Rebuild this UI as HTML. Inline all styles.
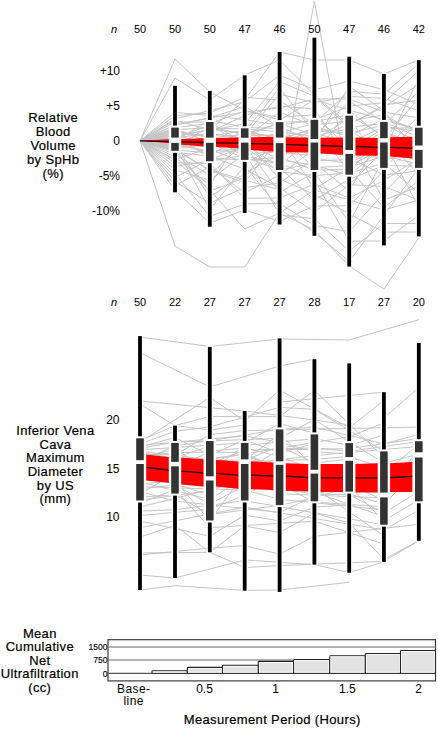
<!DOCTYPE html>
<html><head><meta charset="utf-8"><style>
html,body{margin:0;padding:0;background:#fff;width:438px;height:729px;overflow:hidden}
svg{display:block}
text{font-family:"Liberation Sans",sans-serif}
text[font-size="13"]{stroke:#000;stroke-width:0.2px}
text[font-size="9.3"]{stroke:#000;stroke-width:0.15px}
</style></head><body>
<svg width="438" height="729" viewBox="0 0 438 729" font-family="Liberation Sans, sans-serif" fill="#000"><rect width="438" height="729" fill="#fff"/><g fill="none" stroke="#c4c4c4" stroke-width="1"><polyline points="140.0,141.0 175.0,246.0 209.8,267.0 244.7,267.0 279.6,213.0 314.4,190.0 349.2,200.0 383.9,210.0 418.8,200.0"/><polyline points="140.0,141.0 175.0,59.0 209.8,92.0 244.7,110.0 279.6,120.0 314.4,100.0 349.2,110.0 383.9,120.0 418.8,130.0"/><polyline points="140.0,141.0 175.0,78.0 209.8,100.0 244.7,75.0 279.6,60.0 314.4,95.0 349.2,125.0 383.9,105.0 418.8,100.0"/><polyline points="140.0,141.0 175.0,150.0 209.8,170.0 244.7,180.0 279.6,190.0 314.4,1.4 349.2,185.0 383.9,150.0 418.8,140.0"/><polyline points="140.0,141.0 175.0,160.0 209.8,190.0 244.7,229.0 279.6,213.0 314.4,230.0 349.2,266.0 383.9,289.0 418.8,238.0"/><polyline points="140.0,141.0 175.0,120.0 209.8,130.0 244.7,100.0 279.6,52.0 314.4,60.0 349.2,60.0 383.9,74.0 418.8,60.0"/><polyline points="140.0,141.0 175.0,125.0 209.8,118.0 244.7,112.0 279.6,108.0 314.4,99.0 349.2,99.0 383.9,112.0 418.8,118.0"/><polyline points="140.0,140.8 175.0,132.7 209.8,149.4 244.7,162.5 279.6,146.8 314.4,144.3 349.2,151.9 383.9,139.5 418.8,97.9"/><polyline points="140.0,140.8 175.0,150.8 209.8,191.1 244.7,177.8 279.6,133.2 314.4,123.2 349.2,91.4 383.9,94.1 418.8,63.7"/><polyline points="140.0,140.8 175.0,140.7 209.8,120.1 244.7,127.5 279.6,128.4 314.4,153.6 349.2,110.7 383.9,137.9 418.8,150.6"/><polyline points="140.0,140.8 175.0,139.7 209.8,139.5 244.7,139.2 279.6,149.4 314.4,151.3 349.2,155.8 383.9,129.9 418.8,152.5"/><polyline points="140.0,140.8 175.0,129.6 209.8,127.8 244.7,129.1 279.6,131.6 314.4,136.6 349.2,101.3 383.9,121.9 418.8,137.2"/><polyline points="140.0,140.8 175.0,166.2 209.8,161.2 244.7,155.3 279.6,164.8 314.4,138.2 349.2,124.2 383.9,106.9 418.8,84.5"/><polyline points="140.0,140.8 175.0,154.3 209.8,175.3 244.7,141.9 279.6,159.7 314.4,165.3 349.2,175.2 383.9,146.3 418.8,162.1"/><polyline points="140.0,140.8 175.0,144.9 209.8,151.1 244.7,148.6 279.6,141.6 314.4,131.5 349.2,130.4 383.9,151.1 418.8,77.7"/><polyline points="140.0,140.8 175.0,136.7 209.8,129.3 244.7,133.1 279.6,136.4 314.4,167.7 349.2,165.5 383.9,148.7 418.8,116.8"/><polyline points="140.0,140.8 175.0,137.7 209.8,133.6 244.7,138.2 279.6,111.9 314.4,126.5 349.2,136.5 383.9,118.6 418.8,129.6"/><polyline points="140.0,140.8 175.0,135.7 209.8,157.8 244.7,160.2 279.6,157.1 314.4,170.0 349.2,169.4 383.9,207.5 418.8,180.5"/><polyline points="140.0,140.8 175.0,185.7 209.8,166.7 244.7,192.8 279.6,175.1 314.4,148.9 349.2,153.9 383.9,153.5 418.8,122.6"/><polyline points="140.0,140.8 175.0,141.5 209.8,154.5 244.7,137.2 279.6,122.1 314.4,121.5 349.2,114.8 383.9,136.3 418.8,175.2"/><polyline points="140.0,140.8 175.0,128.6 209.8,142.7 244.7,158.6 279.6,162.3 314.4,179.6 349.2,241.2 383.9,240.9 418.8,215.4"/><polyline points="140.0,140.8 175.0,149.1 209.8,170.7 244.7,182.5 279.6,138.0 314.4,129.9 349.2,133.4 383.9,125.1 418.8,91.2"/><polyline points="140.0,140.8 175.0,131.6 209.8,136.6 244.7,130.1 279.6,139.6 314.4,128.2 349.2,171.3 383.9,134.7 418.8,160.2"/><polyline points="140.0,140.8 175.0,115.7 209.8,113.1 244.7,97.1 279.6,100.2 314.4,124.8 349.2,121.1 383.9,114.9 418.8,133.4"/><polyline points="140.0,140.8 175.0,190.1 209.8,223.2 244.7,209.9 279.6,221.3 314.4,206.0 349.2,205.7 383.9,170.8"/><polyline points="140.0,140.8 175.0,162.8 209.8,163.4 244.7,198.3 279.6,197.9 314.4,184.1 349.2,198.0 383.9,180.5 418.8,158.3"/><polyline points="140.0,140.8 175.0,145.7 209.8,209.7 244.7,165.6 279.6,209.1 314.4,232.3 349.2,261.4 383.9,215.4 418.8,167.9"/><polyline points="140.0,140.8 175.0,169.8 209.8,180.2 244.7,153.6 279.6,152.0 314.4,156.0 349.2,145.8 383.9,160.7 418.8,148.7"/><polyline points="140.0,140.8 175.0,138.7 209.8,124.9 244.7,145.2 279.6,192.6 314.4,172.2 349.2,222.6 383.9,158.3 418.8,139.1"/><polyline points="140.0,140.8 175.0,143.2 209.8,146.1 244.7,132.1 279.6,87.8 314.4,133.2 349.2,142.7 383.9,126.7 418.8,131.5"/><polyline points="140.0,140.8 175.0,112.3 209.8,115.5 244.7,119.7 279.6,125.3 314.4,119.8 349.2,106.1 383.9,102.7 418.8,70.7"/><polyline points="140.0,140.8 175.0,152.2 209.8,156.2 244.7,169.2 279.6,187.7 314.4,212.2 349.2,184.6 383.9,186.5 418.8,200.1"/><polyline points="140.0,140.8 175.0,177.4 209.8,159.5 244.7,146.9 279.6,172.0 314.4,175.5 349.2,173.2 383.9,163.1 418.8,193.1"/><polyline points="140.0,140.8 175.0,125.0 209.8,117.9 244.7,106.5 279.6,126.9 314.4,141.9 349.2,86.2 383.9,111.0 418.8,154.4"/><polyline points="140.0,140.8 175.0,118.9 209.8,110.6 244.7,101.8 279.6,75.1 314.4,89.8 349.2,81.0 383.9,89.7 418.8,104.4"/><polyline points="140.0,140.8 175.0,122.0 209.8,122.0 244.7,143.6 279.6,167.4 314.4,200.1 349.2,179.2 383.9,165.5 418.8,166.0"/><polyline points="140.0,140.8 175.0,156.8 209.8,185.5 244.7,131.1 279.6,144.2 314.4,139.9 349.2,118.0 383.9,167.9 418.8,135.3"/><polyline points="140.0,140.8 175.0,181.5 209.8,203.2 244.7,187.5 279.6,183.1 314.4,158.3 349.2,163.6 383.9,143.9 418.8,141.0"/><polyline points="140.0,140.8 175.0,133.7 209.8,135.1 244.7,157.0 279.6,170.0 314.4,163.0 349.2,190.9 383.9,131.5 418.8,144.8"/><polyline points="140.0,140.8 175.0,134.7 209.8,130.7 244.7,123.8 279.6,81.5 314.4,96.4 349.2,127.3 383.9,123.5 418.8,142.9"/><polyline points="140.0,140.8 175.0,150.0 209.8,152.8 244.7,150.3 279.6,130.0 314.4,160.6 349.2,159.7 383.9,133.1 418.8,146.7"/><polyline points="140.0,140.8 175.0,148.3 209.8,144.4 244.7,136.1 279.6,134.8 314.4,189.1 349.2,167.4 383.9,155.9 418.8,164.1"/><polyline points="140.0,140.8 175.0,144.0 209.8,197.1 244.7,173.3 279.6,154.5 314.4,146.6 349.2,139.6 383.9,200.1 418.8,186.5"/><polyline points="140.0,140.8 175.0,159.7 209.8,147.8 244.7,140.2 279.6,178.9 314.4,194.4 349.2,213.9 383.9,232.1 418.8,232.0"/><polyline points="140.0,140.8 175.0,130.6 209.8,138.0 244.7,134.1 279.6,123.7 314.4,134.9 349.2,157.8 383.9,175.2 418.8,170.8"/><polyline points="140.0,140.8 175.0,173.5 209.8,216.3 244.7,204.0 279.6,203.4 314.4,225.4 349.2,231.7 383.9,193.1 418.8,156.4"/><polyline points="140.0,140.8 175.0,142.4 209.8,132.2 244.7,115.4 279.6,106.1 314.4,108.9 349.2,161.6 383.9,141.5 418.8,207.5"/><polyline points="140.0,140.8 175.0,147.4 209.8,126.4 244.7,135.1 279.6,94.1 314.4,102.7 349.2,96.4 383.9,98.4 418.8,110.7"/><polyline points="140.0,140.8 175.0,146.6 209.8,141.0 244.7,151.9 279.6,215.1 314.4,218.7 349.2,251.1 383.9,223.6 418.8,223.5"/><polyline points="140.0,140.8 175.0,127.6 209.8,123.5 244.7,111.0 279.6,117.3 314.4,114.7 349.2,148.9 383.9,128.3 418.8,127.7"/></g><polygon points="140.0,140.8 168.0,139.3 182.0,139.0 203.0,138.2 217.0,137.9 238.0,137.4 251.0,137.3 274.0,136.8 286.0,137.3 308.0,137.5 321.0,137.8 342.0,137.5 356.0,137.6 378.0,137.9 390.0,137.3 412.6,136.8 412.6,158.6 390.0,156.6 378.0,155.8 356.0,155.5 342.0,154.8 321.0,153.6 308.0,152.6 286.0,152.3 274.0,151.8 251.0,150.0 238.0,148.3 217.0,146.9 203.0,146.6 182.0,144.8 168.0,143.0 140.0,140.8" fill="#ff0000"/><polyline points="140.0,140.8 168.0,141.6 182.0,141.8 203.0,142.5 217.0,142.8 238.0,143.2 251.0,143.6 274.0,144.2 286.0,144.6 308.0,145.1 321.0,145.5 342.0,146.3 356.0,146.5 378.0,147.3 390.0,147.3 412.6,148.2" fill="none" stroke="#200000" stroke-width="1.3"/><rect x="171.8" y="84.8" width="6.4" height="108.5" fill="#fff"/><rect x="173.1" y="85.8" width="3.8" height="106.5" fill="#000"/><rect x="168.8" y="125.6" width="12.4" height="27.2" fill="#fff"/><rect x="171.2" y="127.6" width="7.6" height="10.0" fill="#333"/><rect x="171.2" y="142.9" width="7.6" height="7.9" fill="#333"/><rect x="206.6" y="89.9" width="6.4" height="137.8" fill="#fff"/><rect x="207.9" y="90.9" width="3.8" height="135.8" fill="#000"/><rect x="203.6" y="120.0" width="12.4" height="43.2" fill="#fff"/><rect x="206.0" y="122.0" width="7.6" height="15.6" fill="#333"/><rect x="206.0" y="142.8" width="7.6" height="18.4" fill="#333"/><rect x="241.5" y="74.3" width="6.4" height="139.6" fill="#fff"/><rect x="242.8" y="75.3" width="3.8" height="137.6" fill="#000"/><rect x="238.5" y="126.3" width="12.4" height="35.6" fill="#fff"/><rect x="240.9" y="128.3" width="7.6" height="9.5" fill="#333"/><rect x="240.9" y="142.6" width="7.6" height="17.3" fill="#333"/><rect x="276.4" y="51.0" width="6.4" height="174.5" fill="#fff"/><rect x="277.7" y="52.0" width="3.8" height="172.5" fill="#000"/><rect x="273.4" y="120.1" width="12.4" height="51.9" fill="#fff"/><rect x="275.8" y="122.1" width="7.6" height="15.5" fill="#333"/><rect x="275.8" y="143.1" width="7.6" height="26.9" fill="#333"/><rect x="311.2" y="36.7" width="6.4" height="200.1" fill="#fff"/><rect x="312.5" y="37.7" width="3.8" height="198.1" fill="#000"/><rect x="308.2" y="117.8" width="12.4" height="54.2" fill="#fff"/><rect x="310.6" y="119.8" width="7.6" height="19.2" fill="#333"/><rect x="310.6" y="142.5" width="7.6" height="27.5" fill="#333"/><rect x="346.0" y="55.7" width="6.4" height="211.9" fill="#fff"/><rect x="347.3" y="56.7" width="3.8" height="209.9" fill="#000"/><rect x="343.0" y="113.7" width="12.4" height="63.0" fill="#fff"/><rect x="345.4" y="115.7" width="7.6" height="34.3" fill="#333"/><rect x="345.4" y="153.9" width="7.6" height="20.8" fill="#333"/><rect x="380.7" y="72.9" width="6.4" height="173.5" fill="#fff"/><rect x="382.0" y="73.9" width="3.8" height="171.5" fill="#000"/><rect x="377.7" y="119.9" width="12.4" height="50.0" fill="#fff"/><rect x="380.1" y="121.9" width="7.6" height="16.3" fill="#333"/><rect x="380.1" y="142.5" width="7.6" height="25.4" fill="#333"/><rect x="415.6" y="59.2" width="6.4" height="178.2" fill="#fff"/><rect x="416.9" y="60.2" width="3.8" height="176.2" fill="#000"/><rect x="412.6" y="125.7" width="12.4" height="44.2" fill="#fff"/><rect x="415.0" y="127.7" width="7.6" height="17.8" fill="#333"/><rect x="415.0" y="149.9" width="7.6" height="18.0" fill="#333"/><g fill="none" stroke="#c4c4c4" stroke-width="1"><polyline points="140.0,337.0 209.8,346.5 279.6,339.0 349.2,340.0 418.8,319.7"/><polyline points="140.0,352.7 209.8,387.0 279.6,366.0 314.4,359.2"/><polyline points="279.6,402.0 383.9,392.2"/><polyline points="383.9,418.0 418.8,387.6"/><polyline points="140.0,401.0 244.7,411.0 314.4,420.0 349.2,425.0"/><polyline points="140.0,404.0 175.0,425.6 209.8,430.0 244.7,425.0"/><polyline points="140.0,590.0 175.0,585.7 244.7,590.3 279.6,590.0 349.2,582.3"/><polyline points="140.0,553.0 209.8,552.3 244.7,567.5 279.6,565.6 383.9,561.3 418.8,540.8"/><polyline points="140.0,575.0 175.0,578.0 244.7,560.0 314.4,564.6 349.2,572.7 383.9,561.9"/><polyline points="140.0,484.2 175.0,480.6 209.8,520.7 244.7,473.1 279.6,479.7 383.9,516.7"/><polyline points="140.0,448.4 175.0,442.1 279.6,438.4 314.4,419.6 349.2,441.7 383.9,463.1 418.8,454.0"/><polyline points="140.0,456.5 175.0,452.3 244.7,452.3 279.6,471.2 349.2,474.5"/><polyline points="140.0,460.2 175.0,460.3 209.8,467.4 244.7,461.7 314.4,459.4 349.2,456.5 383.9,468.3"/><polyline points="140.0,500.2 209.8,490.7 279.6,449.8 349.2,448.6 418.8,438.5"/><polyline points="140.0,473.2 209.8,495.0 244.7,458.1 279.6,467.1 314.4,475.8 349.2,469.1 418.8,476.8"/><polyline points="140.0,447.0 175.0,437.5 209.8,455.5 244.7,439.7 279.6,453.2 314.4,443.4"/><polyline points="140.0,497.1 175.0,494.7 209.8,514.6 279.6,505.3 314.4,498.0 349.2,486.8 383.9,520.6 418.8,499.9"/><polyline points="140.0,471.2 209.8,482.5 244.7,456.2 383.9,490.8 418.8,450.4"/><polyline points="140.0,537.1 175.0,525.4 209.8,552.3 244.7,525.9 279.6,532.6 314.4,513.1 349.2,523.0 383.9,559.3 418.8,540.8"/><polyline points="140.0,515.6 209.8,509.2 244.7,495.1 279.6,475.4 314.4,484.4 383.9,503.7 418.8,470.3"/><polyline points="140.0,527.7 244.7,507.2 383.9,529.8 418.8,510.3"/><polyline points="140.0,481.9 209.8,499.5 244.7,477.0 279.6,493.8 383.9,497.9 418.8,448.4"/><polyline points="140.0,507.0 244.7,481.1 314.4,490.7"/><polyline points="140.0,455.2 209.8,474.8 279.6,446.2 314.4,463.0 349.2,459.0 383.9,477.8 418.8,464.0"/><polyline points="140.0,452.6 209.8,463.6 244.7,450.2 314.4,447.7 349.2,451.4 418.8,441.6"/><polyline points="140.0,465.1 175.0,462.8 244.7,454.3 314.4,487.5 383.9,535.9"/><polyline points="140.0,554.9 209.8,548.1 244.7,545.7 279.6,554.1 314.4,536.3 418.8,524.3"/><polyline points="140.0,479.6 175.0,476.7 279.6,463.1 314.4,481.5 383.9,482.2 418.8,483.7"/><polyline points="140.0,469.1 175.0,465.8 209.8,486.6 279.6,434.1 314.4,466.5 383.9,500.8"/><polyline points="140.0,451.2 209.8,459.7 349.2,436.7 383.9,422.9"/><polyline points="140.0,521.0 209.8,536.3 244.7,515.1 279.6,520.9 314.4,507.1 349.2,504.8"/><polyline points="140.0,477.5 279.6,484.1 314.4,502.2 383.9,506.7"/><polyline points="140.0,489.0 175.0,484.8 209.8,504.2 244.7,485.5 279.6,488.8 314.4,494.2 349.2,494.5 383.9,513.2 418.8,491.3"/><polyline points="140.0,486.5 244.7,490.1 279.6,499.2 383.9,509.9"/><polyline points="140.0,443.8 175.0,431.3 209.8,426.9 279.6,407.4 314.4,409.3 383.9,451.2"/><polyline points="140.0,494.3 175.0,472.9 244.7,469.2 314.4,473.1 349.2,464.0 383.9,486.5 418.8,457.9"/><polyline points="140.0,467.1 175.0,469.4 209.8,451.1 244.7,448.0 279.6,456.5 314.4,470.0"/><polyline points="140.0,445.4 244.7,435.8 279.6,442.4 314.4,451.8 349.2,454.0"/><polyline points="140.0,475.3 209.8,478.4 244.7,465.4 279.6,459.8 314.4,455.6 418.8,446.4"/><polyline points="140.0,463.1 244.7,459.9 314.4,478.6 383.9,473.2 418.8,444.2"/><polyline points="140.0,461.5 175.0,445.9 209.8,440.8 279.6,429.2 314.4,427.1 383.9,443.9 418.8,434.4"/><polyline points="140.0,457.7 175.0,449.2 209.8,471.1 244.7,445.5 314.4,438.6 349.2,445.4 383.9,435.0"/><polyline points="140.0,503.4 175.0,489.4 209.8,527.7 314.4,521.2 383.9,544.1"/><polyline points="140.0,453.9 175.0,455.1 209.8,434.6 244.7,430.6 418.8,427.0"/><polyline points="140.0,442.2 209.8,397.4 244.7,421.0 279.6,390.2 349.2,427.8 383.9,400.6"/><polyline points="140.0,511.0 175.0,509.7 244.7,500.7 383.9,524.8"/><polyline points="140.0,449.8 244.7,442.8 279.6,423.6 314.4,433.3"/><polyline points="140.0,459.0 175.0,457.7 209.8,446.2"/><polyline points="140.0,491.6 175.0,501.1 279.6,512.3 349.2,480.3 383.9,495.0 418.8,452.2"/><polyline points="140.0,440.4 175.0,425.6 209.8,416.5 279.6,416.7 314.4,390.3 383.9,457.5"/></g><polygon points="145.5,454.4 168.0,457.1 181.0,457.5 203.0,459.2 216.0,459.7 237.5,461.4 251.5,461.4 272.6,462.5 286.0,463.3 307.7,464.1 320.7,464.1 343.0,464.1 356.0,464.1 377.0,463.3 390.6,463.3 412.6,461.9 412.6,492.0 390.6,492.0 377.0,492.6 356.0,492.6 343.0,492.0 320.7,492.0 307.7,491.5 286.0,490.7 272.6,489.9 251.5,489.3 237.5,488.8 216.0,486.6 203.0,486.6 181.0,484.5 168.0,482.8 145.5,480.4" fill="#ff0000"/><polyline points="145.5,467.4 168.0,470.0 181.0,471.2 203.0,472.9 216.0,473.4 237.5,475.1 251.5,475.0 272.6,476.2 286.0,476.2 307.7,477.5 320.7,477.8 343.0,477.8 356.0,477.8 377.0,477.8 390.6,477.5 412.6,476.4" fill="none" stroke="#200000" stroke-width="1.3"/><rect x="136.8" y="335.1" width="6.4" height="255.9" fill="#fff"/><rect x="138.1" y="336.1" width="3.8" height="253.9" fill="#000"/><rect x="133.8" y="436.3" width="12.4" height="66.2" fill="#fff"/><rect x="136.2" y="438.3" width="7.6" height="21.9" fill="#333"/><rect x="136.2" y="464.0" width="7.6" height="36.5" fill="#333"/><rect x="171.8" y="424.6" width="6.4" height="154.4" fill="#fff"/><rect x="173.1" y="425.6" width="3.8" height="152.4" fill="#000"/><rect x="168.8" y="440.9" width="12.4" height="54.7" fill="#fff"/><rect x="171.2" y="442.9" width="7.6" height="19.0" fill="#333"/><rect x="171.2" y="466.3" width="7.6" height="27.3" fill="#333"/><rect x="206.6" y="345.9" width="6.4" height="207.4" fill="#fff"/><rect x="207.9" y="346.9" width="3.8" height="205.4" fill="#000"/><rect x="203.6" y="439.0" width="12.4" height="83.5" fill="#fff"/><rect x="206.0" y="441.0" width="7.6" height="35.3" fill="#333"/><rect x="206.0" y="480.5" width="7.6" height="40.0" fill="#333"/><rect x="241.5" y="410.0" width="6.4" height="181.7" fill="#fff"/><rect x="242.8" y="411.0" width="3.8" height="179.7" fill="#000"/><rect x="238.5" y="440.9" width="12.4" height="61.6" fill="#fff"/><rect x="240.9" y="442.9" width="7.6" height="16.5" fill="#333"/><rect x="240.9" y="464.0" width="7.6" height="36.5" fill="#333"/><rect x="276.4" y="337.4" width="6.4" height="255.5" fill="#fff"/><rect x="277.7" y="338.4" width="3.8" height="253.5" fill="#000"/><rect x="273.4" y="427.4" width="12.4" height="79.7" fill="#fff"/><rect x="275.8" y="429.4" width="7.6" height="31.9" fill="#333"/><rect x="275.8" y="464.8" width="7.6" height="40.3" fill="#333"/><rect x="311.2" y="358.2" width="6.4" height="207.4" fill="#fff"/><rect x="312.5" y="359.2" width="3.8" height="205.4" fill="#000"/><rect x="308.2" y="432.4" width="12.4" height="70.9" fill="#fff"/><rect x="310.6" y="434.4" width="7.6" height="35.4" fill="#333"/><rect x="310.6" y="473.6" width="7.6" height="27.7" fill="#333"/><rect x="346.0" y="362.4" width="6.4" height="211.3" fill="#fff"/><rect x="347.3" y="363.4" width="3.8" height="209.3" fill="#000"/><rect x="343.0" y="441.1" width="12.4" height="52.5" fill="#fff"/><rect x="345.4" y="443.1" width="7.6" height="14.0" fill="#333"/><rect x="345.4" y="460.8" width="7.6" height="30.8" fill="#333"/><rect x="380.7" y="391.2" width="6.4" height="171.7" fill="#fff"/><rect x="382.0" y="392.2" width="3.8" height="169.7" fill="#000"/><rect x="377.7" y="449.4" width="12.4" height="77.3" fill="#fff"/><rect x="380.1" y="451.4" width="7.6" height="41.2" fill="#333"/><rect x="380.1" y="497.4" width="7.6" height="27.3" fill="#333"/><rect x="415.6" y="342.0" width="6.4" height="199.8" fill="#fff"/><rect x="416.9" y="343.0" width="3.8" height="197.8" fill="#000"/><rect x="412.6" y="439.2" width="12.4" height="64.1" fill="#fff"/><rect x="415.0" y="441.2" width="7.6" height="11.1" fill="#333"/><rect x="415.0" y="457.5" width="7.6" height="43.8" fill="#333"/><text x="114" y="32.5" font-size="11" text-anchor="middle" font-style="italic">n</text><text x="140" y="32.5" font-size="11" text-anchor="middle" >50</text><text x="175" y="32.5" font-size="11" text-anchor="middle" >50</text><text x="209.8" y="32.5" font-size="11" text-anchor="middle" >50</text><text x="244.7" y="32.5" font-size="11" text-anchor="middle" >47</text><text x="279.6" y="32.5" font-size="11" text-anchor="middle" >46</text><text x="314.4" y="32.5" font-size="11" text-anchor="middle" >50</text><text x="349.2" y="32.5" font-size="11" text-anchor="middle" >47</text><text x="383.9" y="32.5" font-size="11" text-anchor="middle" >46</text><text x="418.8" y="32.5" font-size="11" text-anchor="middle" >42</text><text x="114" y="305.8" font-size="11" text-anchor="middle" font-style="italic">n</text><text x="140" y="305.8" font-size="11" text-anchor="middle" >50</text><text x="175" y="305.8" font-size="11" text-anchor="middle" >22</text><text x="209.8" y="305.8" font-size="11" text-anchor="middle" >27</text><text x="244.7" y="305.8" font-size="11" text-anchor="middle" >27</text><text x="279.6" y="305.8" font-size="11" text-anchor="middle" >27</text><text x="314.4" y="305.8" font-size="11" text-anchor="middle" >28</text><text x="349.2" y="305.8" font-size="11" text-anchor="middle" >17</text><text x="383.9" y="305.8" font-size="11" text-anchor="middle" >27</text><text x="418.8" y="305.8" font-size="11" text-anchor="middle" >20</text><text x="120" y="74.8" font-size="12" text-anchor="end" >+10</text><text x="120" y="109.6" font-size="12" text-anchor="end" >+5</text><text x="120" y="145.1" font-size="12" text-anchor="end" >0</text><text x="120" y="180" font-size="12" text-anchor="end" >-5%</text><text x="120" y="214.7" font-size="12" text-anchor="end" >-10%</text><text x="119.5" y="423.8" font-size="12" text-anchor="end" >20</text><text x="119.5" y="472.8" font-size="12" text-anchor="end" >15</text><text x="119.5" y="521.2" font-size="12" text-anchor="end" >10</text><text x="53.2" y="122.4" font-size="13" text-anchor="middle" letter-spacing="0.35">Relative</text><text x="53.2" y="136.4" font-size="13" text-anchor="middle" letter-spacing="0.35">Blood</text><text x="53.2" y="150.4" font-size="13" text-anchor="middle" letter-spacing="0.35">Volume</text><text x="53.2" y="164.4" font-size="13" text-anchor="middle" letter-spacing="0.35">by SpHb</text><text x="53.2" y="178.4" font-size="13" text-anchor="middle" letter-spacing="0.35">(%)</text><text x="55.4" y="435.2" font-size="13" text-anchor="middle" letter-spacing="0.35">Inferior Vena</text><text x="55.4" y="448.8" font-size="13" text-anchor="middle" letter-spacing="0.35">Cava</text><text x="55.4" y="462.4" font-size="13" text-anchor="middle" letter-spacing="0.35">Maximum</text><text x="55.4" y="476.0" font-size="13" text-anchor="middle" letter-spacing="0.35">Diameter</text><text x="55.4" y="489.59999999999997" font-size="13" text-anchor="middle" letter-spacing="0.35">by US</text><text x="55.4" y="503.2" font-size="13" text-anchor="middle" letter-spacing="0.35">(mm)</text><text x="39.8" y="637.6" font-size="13" text-anchor="middle" letter-spacing="0.33">Mean</text><text x="39.8" y="651.2" font-size="13" text-anchor="middle" letter-spacing="0.33">Cumulative</text><text x="39.8" y="664.8000000000001" font-size="13" text-anchor="middle" letter-spacing="0.33">Net</text><text x="39.8" y="678.4" font-size="13" text-anchor="middle" letter-spacing="0.33">Ultrafiltration</text><text x="39.8" y="692.0" font-size="13" text-anchor="middle" letter-spacing="0.33">(cc)</text><g><rect x="108.0" y="639.7" width="327.5" height="41.2" fill="#fff" stroke="#333" stroke-width="1.15"/><line x1="108" y1="646.9" x2="435.4" y2="646.9" stroke="#999" stroke-width="1.5"/><line x1="108" y1="659.9" x2="435.4" y2="659.9" stroke="#999" stroke-width="1.5"/><line x1="108" y1="673.4" x2="435.4" y2="673.4" stroke="#555" stroke-width="1.3"/><rect x="152.0" y="670.8" width="35.3" height="2.5" rx="0.8" fill="#e3e3e3" stroke="#222" stroke-width="1.1"/><rect x="153.1" y="671.9" width="33.1" height="0.3" fill="none" stroke="#fff" stroke-width="0.8"/><rect x="187.3" y="667.4" width="35.2" height="5.9" rx="0.8" fill="#e3e3e3" stroke="#222" stroke-width="1.1"/><rect x="188.4" y="668.5" width="33.0" height="3.7" fill="none" stroke="#fff" stroke-width="0.8"/><rect x="222.5" y="665.3" width="35.8" height="8.0" rx="0.8" fill="#e3e3e3" stroke="#222" stroke-width="1.1"/><rect x="223.6" y="666.4" width="33.6" height="5.8" fill="none" stroke="#fff" stroke-width="0.8"/><rect x="258.3" y="661.4" width="35.4" height="11.9" rx="0.8" fill="#e3e3e3" stroke="#222" stroke-width="1.1"/><rect x="259.4" y="662.5" width="33.2" height="9.7" fill="none" stroke="#fff" stroke-width="0.8"/><rect x="293.7" y="659.5" width="36.1" height="13.8" rx="0.8" fill="#e3e3e3" stroke="#222" stroke-width="1.1"/><rect x="294.8" y="660.6" width="33.9" height="11.6" fill="none" stroke="#fff" stroke-width="0.8"/><rect x="329.8" y="655.7" width="35.5" height="17.6" rx="0.8" fill="#e3e3e3" stroke="#222" stroke-width="1.1"/><rect x="330.9" y="656.8" width="33.3" height="15.4" fill="none" stroke="#fff" stroke-width="0.8"/><rect x="365.3" y="653.5" width="35.2" height="19.8" rx="0.8" fill="#e3e3e3" stroke="#222" stroke-width="1.1"/><rect x="366.4" y="654.6" width="33.0" height="17.6" fill="none" stroke="#fff" stroke-width="0.8"/><rect x="400.5" y="650.5" width="34.9" height="22.8" rx="0.8" fill="#e3e3e3" stroke="#222" stroke-width="1.1"/><rect x="401.6" y="651.6" width="32.7" height="20.6" fill="none" stroke="#fff" stroke-width="0.8"/></g><g transform="translate(107.6,0) scale(0.92,1)"><text x="0" y="650.1" font-size="9.3" text-anchor="end" >1500</text><text x="0" y="663.2" font-size="9.3" text-anchor="end" >750</text><text x="0" y="676.6" font-size="9.3" text-anchor="end" >0</text></g><text x="133.8" y="693.1" font-size="12" text-anchor="middle" letter-spacing="0.4">Base-</text><text x="133.7" y="705.1" font-size="12" text-anchor="middle" letter-spacing="0.4">line</text><text x="204.5" y="693.1" font-size="12" text-anchor="middle" >0.5</text><text x="275.6" y="693.1" font-size="12" text-anchor="middle" >1</text><text x="347.4" y="693.1" font-size="12" text-anchor="middle" >1.5</text><text x="418.7" y="693.1" font-size="12" text-anchor="middle" >2</text><text x="272.2" y="724" font-size="13" text-anchor="middle" letter-spacing="0.36">Measurement Period (Hours)</text></svg>
</body></html>
